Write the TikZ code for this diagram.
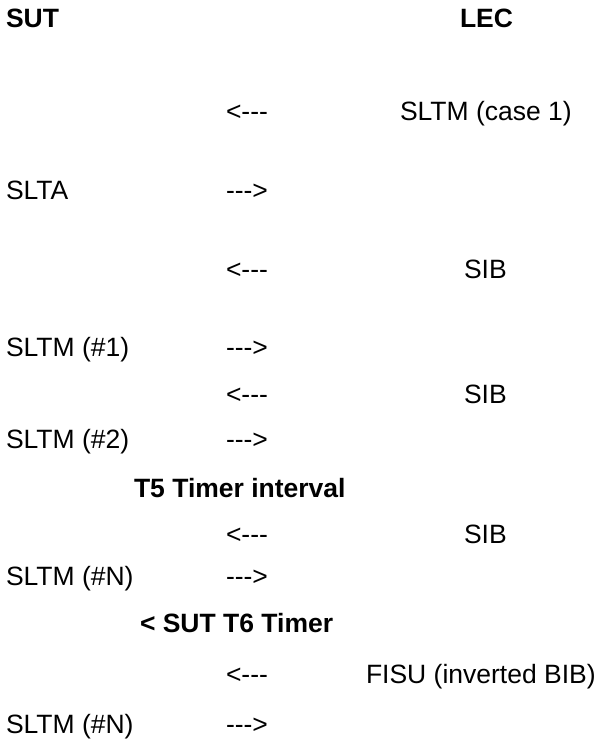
\documentclass[tikz,border=0pt]{standalone}
\usepackage{fontspec}
\setmainfont[Ligatures=NoCommon]{Liberation Sans}
\begin{document}
\begin{tikzpicture}[x=1pt,y=-1pt,
  lbl/.style={anchor=base west,inner sep=0pt,outer sep=0pt,font=\fontsize{26.5}{30}\selectfont},
  head/.style={lbl,font=\fontsize{26.5}{30}\selectfont\bfseries}]
\useasboundingbox (0,0) rectangle (605,739);
% column headers
\node[head] (sut) at (6,27) {SUT};
\node[head] (lec) at (460,27) {LEC};
% message rows: left column, arrow column, right column
\node[lbl] (a1) at (226,120) {<{-}{-}{-}};
\node[lbl] (m1) at (400,120) {SLTM (case 1)};
\node[lbl] (m2) at (6,199) {SLTA};
\node[lbl] (a2) at (226,199) {{-}{-}{-}>};
\node[lbl] (a3) at (226,278) {<{-}{-}{-}};
\node[lbl] (m3) at (464,278) {SIB};
\node[lbl] (m4) at (6,356) {SLTM (\#1)};
\node[lbl] (a4) at (226,356) {{-}{-}{-}>};
\node[lbl] (a5) at (226,403) {<{-}{-}{-}};
\node[lbl] (m5) at (464,403) {SIB};
\node[lbl] (m6) at (6,448) {SLTM (\#2)};
\node[lbl] (a6) at (226,448) {{-}{-}{-}>};
\node[head] (t5) at (134,497) {T5 Timer interval};
\node[lbl] (a7) at (226,543) {<{-}{-}{-}};
\node[lbl] (m7) at (464,543) {SIB};
\node[lbl] (m8) at (6,585) {SLTM (\#N)};
\node[lbl] (a8) at (226,585) {{-}{-}{-}>};
\node[head] (t6) at (140,632) {< SUT T6 Timer};
\node[lbl] (a9) at (226,683) {<{-}{-}{-}};
\node[lbl] (m9) at (366,683) {FISU (inverted BIB)};
\node[lbl] (m10) at (6,733) {SLTM (\#N)};
\node[lbl] (a10) at (226,733) {{-}{-}{-}>};
\end{tikzpicture}
\end{document}
